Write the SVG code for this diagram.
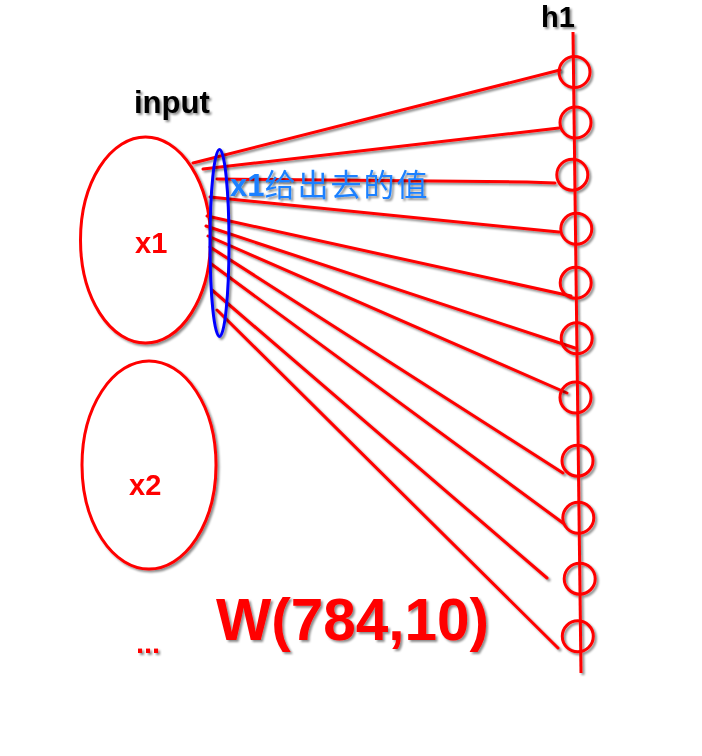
<svg xmlns="http://www.w3.org/2000/svg" width="702" height="756" viewBox="0 0 702 756">
  <defs>
    <filter id="sh" x="-20%" y="-20%" width="140%" height="140%">
      <feDropShadow dx="2" dy="2" stdDeviation="1.2" flood-color="#000" flood-opacity="0.45"/>
    </filter>
  </defs>
  <style>
    .node { fill: #ffffff; stroke: #ff0000; stroke-width: 3; }
    .hn { fill: none; stroke: #ff0000; stroke-width: 3; }
    .lbl { font-family: "Liberation Sans", Arial, sans-serif; font-weight: bold; }
    .redt { fill: #ff0000; }
  </style>
  <rect width="702" height="756" fill="#ffffff"/>

  <g id="input-x1" filter="url(#sh)">
    <ellipse class="node" cx="145.5" cy="240" rx="65" ry="103"/>
    <text class="lbl redt" x="135" y="253" font-size="29">x1</text>
  </g>
  <g id="input-x2" filter="url(#sh)">
    <ellipse class="node" cx="149" cy="465" rx="67" ry="104"/>
    <text class="lbl redt" x="129" y="495" font-size="29">x2</text>
  </g>
  <g id="input-more" filter="url(#sh)">
    <text class="lbl redt" x="136" y="653" font-size="29">...</text>
  </g>

  <g id="connectors" filter="url(#sh)" stroke="#ff0000" stroke-width="3" fill="none" stroke-linecap="round">
    <line x1="193" y1="163" x2="560" y2="70"/>
    <line x1="203" y1="169" x2="559" y2="128"/>
    <polyline points="217,179 527,182 555,183"/>
    <line x1="210" y1="197" x2="559" y2="232"/>
    <line x1="207" y1="216" x2="571" y2="296"/>
    <line x1="206" y1="226" x2="575" y2="348"/>
    <line x1="208" y1="236" x2="567" y2="393"/>
    <line x1="210" y1="247" x2="563" y2="473"/>
    <line x1="210" y1="263" x2="563" y2="523"/>
    <line x1="212" y1="290" x2="547" y2="578"/>
    <line x1="217" y1="310" x2="558" y2="648"/>
  </g>

  <g id="x1-output" filter="url(#sh)">
    <ellipse cx="219.5" cy="243" rx="9.5" ry="93.5" fill="none" stroke="#0000ff" stroke-width="3"/>
    <text x="230" y="196" font-size="31" fill="#1a80ff"><tspan font-family="Liberation Sans, Arial, sans-serif" font-weight="bold">x1</tspan><tspan font-family="'Noto Sans CJK SC', 'Noto Sans', sans-serif" letter-spacing="2">给出去的值</tspan></text>
  </g>

  <g id="h1-layer" filter="url(#sh)">
    <text class="lbl" x="541" y="27" font-size="29" fill="#000000">h1</text>
    <line x1="573" y1="32" x2="581" y2="673" stroke="#ff0000" stroke-width="3"/>
    <circle class="hn" cx="574.5" cy="72" r="15.5"/>
    <circle class="hn" cx="575.5" cy="122.5" r="15.5"/>
    <circle class="hn" cx="572.3" cy="174.7" r="15.5"/>
    <circle class="hn" cx="576.3" cy="228.8" r="15.5"/>
    <circle class="hn" cx="575.7" cy="282.8" r="15.5"/>
    <circle class="hn" cx="576.7" cy="338.3" r="15.5"/>
    <circle class="hn" cx="575.5" cy="397.5" r="15.5"/>
    <circle class="hn" cx="577.5" cy="460.7" r="15.5"/>
    <circle class="hn" cx="578.3" cy="517.8" r="15.5"/>
    <circle class="hn" cx="579.7" cy="578.7" r="15.5"/>
    <circle class="hn" cx="577.8" cy="636.3" r="15.5"/>
  </g>

  <g id="input-title" filter="url(#sh)">
    <text class="lbl" x="134" y="113" font-size="31" fill="#000000">input</text>
  </g>

  <g id="weights-label" filter="url(#sh)">
    <text class="lbl redt" x="216" y="640" font-size="58.5">W(784,10)</text>
  </g>
</svg>
